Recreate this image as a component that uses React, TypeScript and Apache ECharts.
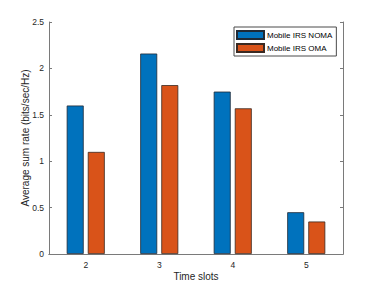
import React, { useEffect, useRef } from "react";
import * as echarts from "echarts";

const categories = ["2", "3", "4", "5"];
const nomaValues = [1.6, 2.16, 1.75, 0.45];
const omaValues = [1.1, 1.82, 1.57, 0.35];
const seriesNames = ["Mobile IRS NOMA", "Mobile IRS OMA"];
const yTicks = { min: 0, max: 2.5, interval: 0.5 };

export default function App() {
  const ref = useRef<HTMLDivElement>(null);
  useEffect(() => {
    if (!ref.current) return;
    const chart = echarts.init(ref.current, null, { renderer: "svg" });
    const axisColor = "#7a7a7a";
    const textColor = "#262626";
    const font = "Liberation Sans, Arial, Helvetica, sans-serif";
    chart.setOption({
      animation: false,
      backgroundColor: "#ffffff",
      textStyle: { fontFamily: font },
      grid: { left: 49, top: 22, width: 294, height: 232, containLabel: false },
      legend: {
        orient: "vertical",
        left: 234,
        top: 27,
        padding: [3, 4, 3, 2],
        itemWidth: 27,
        itemHeight: 8,
        itemGap: 3,
        borderColor: "#4a4a4a",
        borderWidth: 1,
        backgroundColor: "#ffffff",
        textStyle: { fontSize: 8, color: "#000000", fontFamily: font, padding: [0, 0, 0, -2] },
        data: seriesNames.map((n) => ({ name: n, icon: "rect" })),
      },
      xAxis: [
        {
          type: "category",
          data: categories,
          position: "bottom",
          name: "Time slots",
          nameLocation: "middle",
          nameGap: 17,
          nameMoveOverlap: false,
          nameTextStyle: { fontSize: 10, color: textColor, fontFamily: font },
          axisLine: { lineStyle: { color: axisColor, width: 1 } },
          axisTick: { inside: true, alignWithLabel: true, length: 3, lineStyle: { color: axisColor } },
          axisLabel: { fontSize: 8.5, color: textColor, margin: 6, fontFamily: font },
          splitLine: { show: false },
        },
        {
          type: "category",
          data: categories,
          position: "top",
          axisLine: { lineStyle: { color: axisColor, width: 1 } },
          axisTick: { inside: true, alignWithLabel: true, length: 3, lineStyle: { color: axisColor } },
          axisLabel: { show: false },
        },
      ],
      yAxis: [
        {
          type: "value",
          min: yTicks.min,
          max: yTicks.max,
          interval: yTicks.interval,
          position: "left",
          name: "Average sum rate (bits/sec/Hz)",
          nameLocation: "middle",
          nameGap: 19,
          nameRotate: 90,
          nameMoveOverlap: false,
          nameTextStyle: { fontSize: 10, color: textColor, fontFamily: font },
          axisLine: { show: true, lineStyle: { color: axisColor, width: 1 } },
          axisTick: { show: true, inside: true, length: 3, lineStyle: { color: axisColor } },
          axisLabel: { fontSize: 8.5, color: textColor, margin: 5, fontFamily: font },
          splitLine: { show: false },
        },
        {
          type: "value",
          min: yTicks.min,
          max: yTicks.max,
          interval: yTicks.interval,
          position: "right",
          axisLine: { show: true, lineStyle: { color: axisColor, width: 1 } },
          axisTick: { show: true, inside: true, length: 3, lineStyle: { color: axisColor } },
          axisLabel: { show: false },
          splitLine: { show: false },
        },
      ],
      series: [
        {
          name: seriesNames[0],
          type: "bar",
          data: nomaValues,
          barWidth: 17,
          barGap: "24%",
          itemStyle: { color: "#0072BD", borderColor: "#1f2a36", borderWidth: 0.8 },
        },
        {
          name: seriesNames[1],
          type: "bar",
          data: omaValues,
          barWidth: 17,
          barGap: "24%",
          itemStyle: { color: "#D95319", borderColor: "#3a2a22", borderWidth: 0.8 },
        },
      ],
    });
    return () => chart.dispose();
  }, []);
  return (
    <div
      ref={ref}
      style={{ position: "fixed", left: 0, top: 0, width: 379, height: 286, background: "#fff" }}
    />
  );
}
